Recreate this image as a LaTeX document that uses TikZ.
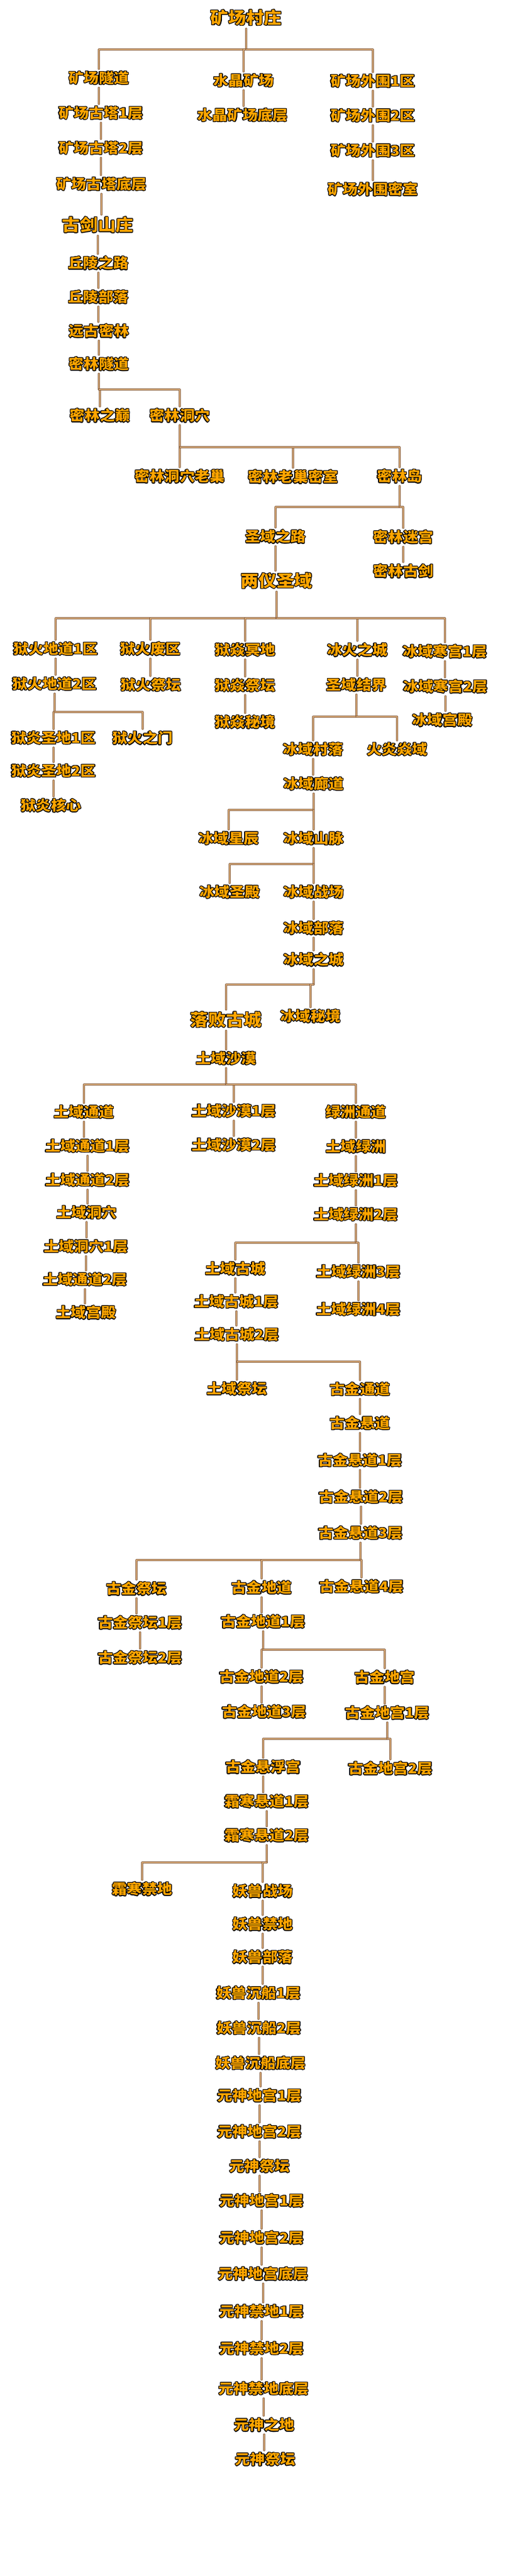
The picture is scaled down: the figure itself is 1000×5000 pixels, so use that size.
\documentclass[tikz,border=0pt]{standalone}
\usepackage{fontspec}
\setmainfont{Noto Sans CJK SC}[FakeStretch=1.08]
\usepackage{xcolor}
\newif\ifglow
\IfFileExists{contour.sty}{\glowtrue}{\glowfalse}
\ifglow
\usepackage[copies]{contour}
\contourlength{1.4pt}
\contournumber{16}
\newcommand{\glow}[1]{\contour{black}{#1}}
\else
\newcommand{\glow}[1]{#1}
\fi
\definecolor{ember}{RGB}{255,165,0}
\definecolor{rim}{RGB}{125,85,55}
\definecolor{core}{RGB}{220,175,125}

\begin{document}
\begin{tikzpicture}[x=1pt,y=-1pt,line cap=round,line join=round,
	place/.style={inner sep=4pt,text=ember,font=\bfseries\fontsize{27}{30}\selectfont},
	hub/.style={place,font=\bfseries\fontsize{32}{35}\selectfont},
	link/.style={draw=rim,line width=0.9pt,double=core,double distance=1.4pt}]
		\useasboundingbox[fill=white] (0,0) rectangle (1000,5000);
		% fork levels
		\coordinate (f1) at (0,96);
		\coordinate (f2) at (0,756);
		\coordinate (f3) at (0,868);
		\coordinate (f4) at (0,984);
		\coordinate (f5) at (0,1200);
		\coordinate (f6) at (0,1382);
		\coordinate (f7) at (0,1391);
		\coordinate (f8) at (0,1572);
		\coordinate (f9) at (0,1677);
		\coordinate (f10) at (0,1911);
		\coordinate (f11) at (0,2105);
		\coordinate (f12) at (0,2412);
		\coordinate (f13) at (0,2643);
		\coordinate (f14) at (0,3028);
		\coordinate (f15) at (0,3202);
		\coordinate (f16) at (0,3375);
		\coordinate (f17) at (0,3615);
		% places
		\node[hub] (cz) at (478,35) {\glow{矿场村庄}};
		\node[place] (sd) at (192,152) {\glow{矿场隧道}};
		\node[place] (sj) at (473,157) {\glow{水晶矿场}};
		\node[place] (w1) at (724,158) {\glow{矿场外围1区}};
		\node[place] (t1) at (196,220) {\glow{矿场古塔1层}};
		\node[place] (sjd) at (471,224) {\glow{水晶矿场底层}};
		\node[place] (w2) at (724,225) {\glow{矿场外围2区}};
		\node[place] (t2) at (196,288) {\glow{矿场古塔2层}};
		\node[place] (w3) at (724,293) {\glow{矿场外围3区}};
		\node[place] (td) at (197,358) {\glow{矿场古塔底层}};
		\node[place] (wm) at (724,368) {\glow{矿场外围密室}};
		\node[hub] (gj) at (190,437) {\glow{古剑山庄}};
		\node[place] (ql) at (191,511) {\glow{丘陵之路}};
		\node[place] (qb) at (191,577) {\glow{丘陵部落}};
		\node[place] (yg) at (192,643) {\glow{远古密林}};
		\node[place] (ms) at (192,707) {\glow{密林隧道}};
		\node[place] (mdj) at (194,807) {\glow{密林之巅}};
		\node[place] (mdx) at (349,807) {\glow{密林洞穴}};
		\node[place] (lc) at (349,925) {\glow{密林洞穴老巢}};
		\node[place] (ls) at (569,926) {\glow{密林老巢密室}};
		\node[place] (md) at (776,925) {\glow{密林岛}};
		\node[place] (sl) at (535,1042) {\glow{圣域之路}};
		\node[place] (mgg) at (783,1043) {\glow{密林迷宫}};
		\node[hub] (lh) at (537,1128) {\glow{两仪圣域}};
		\node[place] (mg) at (783,1109) {\glow{密林古剑}};
		\node[place] (hd1) at (108,1260) {\glow{狱火地道1区}};
		\node[place] (hf) at (292,1260) {\glow{狱火废区}};
		\node[place] (ym) at (476,1262) {\glow{狱焱冥地}};
		\node[place] (bh) at (694,1262) {\glow{冰火之城}};
		\node[place] (hg1) at (864,1265) {\glow{冰域寒宫1层}};
		\node[place] (hd2) at (106,1328) {\glow{狱火地道2区}};
		\node[place] (hj) at (293,1330) {\glow{狱火祭坛}};
		\node[place] (yj) at (476,1331) {\glow{狱焱祭坛}};
		\node[place] (jj) at (692,1330) {\glow{圣域结界}};
		\node[place] (hg2) at (865,1333) {\glow{冰域寒宫2层}};
		\node[place] (ymj) at (476,1402) {\glow{狱焱秘境}};
		\node[place] (bgd) at (859,1398) {\glow{冰域宫殿}};
		\node[place] (ys1) at (104,1433) {\glow{狱炎圣地1区}};
		\node[place] (hm) at (277,1433) {\glow{狱火之门}};
		\node[place] (bc) at (608,1455) {\glow{冰域村落}};
		\node[place] (hy) at (771,1455) {\glow{火炎焱域}};
		\node[place] (ys2) at (104,1497) {\glow{狱炎圣地2区}};
		\node[place] (ld) at (609,1522) {\glow{冰域廊道}};
		\node[place] (hx) at (99,1564) {\glow{狱炎核心}};
		\node[place] (xc) at (444,1628) {\glow{冰域星辰}};
		\node[place] (sm) at (609,1628) {\glow{冰域山脉}};
		\node[place] (sdn) at (446,1732) {\glow{冰域圣殿}};
		\node[place] (zc) at (609,1732) {\glow{冰域战场}};
		\node[place] (bb) at (609,1802) {\glow{冰域部落}};
		\node[place] (bz) at (609,1863) {\glow{冰域之城}};
		\node[hub] (lb) at (439,1980) {\glow{落败古城}};
		\node[place] (mj) at (603,1973) {\glow{冰域秘境}};
		\node[place] (ts) at (439,2055) {\glow{土域沙漠}};
		\node[place] (tt) at (163,2159) {\glow{土域通道}};
		\node[place] (ts1) at (454,2157) {\glow{土域沙漠1层}};
		\node[place] (lz) at (691,2159) {\glow{绿洲通道}};
		\node[place] (tt1) at (170,2225) {\glow{土域通道1层}};
		\node[place] (ts2) at (454,2223) {\glow{土域沙漠2层}};
		\node[place] (tl) at (691,2226) {\glow{土域绿洲}};
		\node[place] (tt2) at (170,2291) {\glow{土域通道2层}};
		\node[place] (tl1) at (691,2292) {\glow{土域绿洲1层}};
		\node[place] (tx) at (168,2354) {\glow{土域洞穴}};
		\node[place] (tl2) at (691,2358) {\glow{土域绿洲2层}};
		\node[place] (tx1) at (167,2420) {\glow{土域洞穴1层}};
		\node[place] (gc) at (457,2463) {\glow{土域古城}};
		\node[place] (tl3) at (696,2469) {\glow{土域绿洲3层}};
		\node[place] (tt2b) at (165,2484) {\glow{土域通道2层}};
		\node[place] (gc1) at (459,2527) {\glow{土域古城1层}};
		\node[place] (tl4) at (696,2542) {\glow{土域绿洲4层}};
		\node[place] (tgd) at (167,2548) {\glow{土域宫殿}};
		\node[place] (gc2) at (460,2591) {\glow{土域古城2层}};
		\node[place] (tj) at (460,2696) {\glow{土域祭坛}};
		\node[place] (gt) at (699,2697) {\glow{古金通道}};
		\node[place] (xd) at (699,2763) {\glow{古金悬道}};
		\node[place] (xd1) at (699,2835) {\glow{古金悬道1层}};
		\node[place] (xd2) at (701,2906) {\glow{古金悬道2层}};
		\node[place] (xd3) at (700,2976) {\glow{古金悬道3层}};
		\node[place] (gjt) at (265,3084) {\glow{古金祭坛}};
		\node[place] (gd0) at (508,3082) {\glow{古金地道}};
		\node[place] (xd4) at (702,3080) {\glow{古金悬道4层}};
		\node[place] (gjt1) at (272,3150) {\glow{古金祭坛1层}};
		\node[place] (gd1) at (511,3148) {\glow{古金地道1层}};
		\node[place] (gjt2) at (272,3218) {\glow{古金祭坛2层}};
		\node[place] (gd2) at (508,3255) {\glow{古金地道2层}};
		\node[place] (dg) at (747,3256) {\glow{古金地宫}};
		\node[place] (gd3) at (513,3323) {\glow{古金地道3层}};
		\node[place] (dg1) at (752,3325) {\glow{古金地宫1层}};
		\node[place] (fg) at (511,3430) {\glow{古金悬浮宫}};
		\node[place] (dg2) at (758,3433) {\glow{古金地宫2层}};
		\node[place] (sh1) at (518,3497) {\glow{霜寒悬道1层}};
		\node[place] (sh2) at (518,3563) {\glow{霜寒悬道2层}};
		\node[place] (shj) at (276,3667) {\glow{霜寒禁地}};
		\node[place] (yz) at (510,3671) {\glow{妖兽战场}};
		\node[place] (yj2) at (510,3735) {\glow{妖兽禁地}};
		\node[place] (yb) at (510,3799) {\glow{妖兽部落}};
		\node[place] (cc1) at (502,3869) {\glow{妖兽沉船1层}};
		\node[place] (cc2) at (503,3937) {\glow{妖兽沉船2层}};
		\node[place] (ccd) at (506,4005) {\glow{妖兽沉船底层}};
		\node[place] (a1) at (504,4068) {\glow{元神地宫1层}};
		\node[place] (a2) at (504,4138) {\glow{元神地宫2层}};
		\node[place] (aj) at (504,4205) {\glow{元神祭坛}};
		\node[place] (b1) at (508,4272) {\glow{元神地宫1层}};
		\node[place] (b2) at (508,4344) {\glow{元神地宫2层}};
		\node[place] (bd) at (511,4414) {\glow{元神地宫底层}};
		\node[place] (jd1) at (508,4487) {\glow{元神禁地1层}};
		\node[place] (jd2) at (508,4559) {\glow{元神禁地2层}};
		\node[place] (jdd) at (512,4637) {\glow{元神禁地底层}};
		\node[place] (zd) at (513,4707) {\glow{元神之地}};
		\node[place] (yjt) at (515,4774) {\glow{元神祭坛}};
		% forks
		\draw[link] (cz.south) -- (cz.south |- f1) -| (sd.north);
		\draw[link] (cz.south |- f1) -| (sj.north);
		\draw[link] (cz.south |- f1) -| (w1.north);
		\draw[link] (ms.south) -- (ms.south |- f2) -| (mdj.north);
		\draw[link] (ms.south |- f2) -| (mdx.north);
		\draw[link] (mdx.south) -- (mdx.south |- f3) -| (lc.north);
		\draw[link] (mdx.south |- f3) -| (ls.north);
		\draw[link] (mdx.south |- f3) -| (md.north);
		\draw[link] (md.south) -- (md.south |- f4) -| (sl.north);
		\draw[link] (md.south |- f4) -| (mgg.north);
		\draw[link] (lh.south) -- (lh.south |- f5) -| (hd1.north);
		\draw[link] (lh.south |- f5) -| (hf.north);
		\draw[link] (lh.south |- f5) -| (ym.north);
		\draw[link] (lh.south |- f5) -| (bh.north);
		\draw[link] (lh.south |- f5) -| (hg1.north);
		\draw[link] (hd2.south) -- (hd2.south |- f6) -| (ys1.north);
		\draw[link] (hd2.south |- f6) -| (hm.north);
		\draw[link] (jj.south) -- (jj.south |- f7) -| (bc.north);
		\draw[link] (jj.south |- f7) -| (hy.north);
		\draw[link] (ld.south) -- (ld.south |- f8) -| (xc.north);
		\draw[link] (ld.south |- f8) -| (sm.north);
		\draw[link] (sm.south) -- (sm.south |- f9) -| (sdn.north);
		\draw[link] (sm.south |- f9) -| (zc.north);
		\draw[link] (bz.south) -- (bz.south |- f10) -| (lb.north);
		\draw[link] (bz.south |- f10) -| (mj.north);
		\draw[link] (ts.south) -- (ts.south |- f11) -| (tt.north);
		\draw[link] (ts.south |- f11) -| (ts1.north);
		\draw[link] (ts.south |- f11) -| (lz.north);
		\draw[link] (tl2.south) -- (tl2.south |- f12) -| (gc.north);
		\draw[link] (tl2.south |- f12) -| (tl3.north);
		\draw[link] (gc2.south) -- (gc2.south |- f13) -| (tj.north);
		\draw[link] (gc2.south |- f13) -| (gt.north);
		\draw[link] (xd3.south) -- (xd3.south |- f14) -| (gjt.north);
		\draw[link] (xd3.south |- f14) -| (gd0.north);
		\draw[link] (xd3.south |- f14) -| (xd4.north);
		\draw[link] (gd1.south) -- (gd1.south |- f15) -| (gd2.north);
		\draw[link] (gd1.south |- f15) -| (dg.north);
		\draw[link] (dg1.south) -- (dg1.south |- f16) -| (fg.north);
		\draw[link] (dg1.south |- f16) -| (dg2.north);
		\draw[link] (sh2.south) -- (sh2.south |- f17) -| (shj.north);
		\draw[link] (sh2.south |- f17) -| (yz.north);
		% chains
		\draw[link] (sd.south) -- (sd.south |- t1.north);
		\draw[link] (t1.south) -- (t1.south |- t2.north);
		\draw[link] (t2.south) -- (t2.south |- td.north);
		\draw[link] (td.south) -- (td.south |- gj.north);
		\draw[link] (gj.south) -- (gj.south |- ql.north);
		\draw[link] (ql.south) -- (ql.south |- qb.north);
		\draw[link] (qb.south) -- (qb.south |- yg.north);
		\draw[link] (yg.south) -- (yg.south |- ms.north);
		\draw[link] (sj.south) -- (sj.south |- sjd.north);
		\draw[link] (w1.south) -- (w1.south |- w2.north);
		\draw[link] (w2.south) -- (w2.south |- w3.north);
		\draw[link] (w3.south) -- (w3.south |- wm.north);
		\draw[link] (sl.south) -- (sl.south |- lh.north);
		\draw[link] (mgg.south) -- (mgg.south |- mg.north);
		\draw[link] (hd1.south) -- (hd1.south |- hd2.north);
		\draw[link] (hf.south) -- (hf.south |- hj.north);
		\draw[link] (ym.south) -- (ym.south |- yj.north);
		\draw[link] (bh.south) -- (bh.south |- jj.north);
		\draw[link] (hg1.south) -- (hg1.south |- hg2.north);
		\draw[link] (yj.south) -- (yj.south |- ymj.north);
		\draw[link] (hg2.south) -- (hg2.south |- bgd.north);
		\draw[link] (ys1.south) -- (ys1.south |- ys2.north);
		\draw[link] (ys2.south) -- (ys2.south |- hx.north);
		\draw[link] (bc.south) -- (bc.south |- ld.north);
		\draw[link] (zc.south) -- (zc.south |- bb.north);
		\draw[link] (bb.south) -- (bb.south |- bz.north);
		\draw[link] (lb.south) -- (lb.south |- ts.north);
		\draw[link] (tt.south) -- (tt.south |- tt1.north);
		\draw[link] (tt1.south) -- (tt1.south |- tt2.north);
		\draw[link] (tt2.south) -- (tt2.south |- tx.north);
		\draw[link] (tx.south) -- (tx.south |- tx1.north);
		\draw[link] (tx1.south) -- (tx1.south |- tt2b.north);
		\draw[link] (tt2b.south) -- (tt2b.south |- tgd.north);
		\draw[link] (ts1.south) -- (ts1.south |- ts2.north);
		\draw[link] (lz.south) -- (lz.south |- tl.north);
		\draw[link] (tl.south) -- (tl.south |- tl1.north);
		\draw[link] (tl1.south) -- (tl1.south |- tl2.north);
		\draw[link] (gc.south) -- (gc.south |- gc1.north);
		\draw[link] (gc1.south) -- (gc1.south |- gc2.north);
		\draw[link] (tl3.south) -- (tl3.south |- tl4.north);
		\draw[link] (gt.south) -- (gt.south |- xd.north);
		\draw[link] (xd.south) -- (xd.south |- xd1.north);
		\draw[link] (xd1.south) -- (xd1.south |- xd2.north);
		\draw[link] (xd2.south) -- (xd2.south |- xd3.north);
		\draw[link] (gjt.south) -- (gjt.south |- gjt1.north);
		\draw[link] (gjt1.south) -- (gjt1.south |- gjt2.north);
		\draw[link] (gd0.south) -- (gd0.south |- gd1.north);
		\draw[link] (gd2.south) -- (gd2.south |- gd3.north);
		\draw[link] (dg.south) -- (dg.south |- dg1.north);
		\draw[link] (fg.south) -- (fg.south |- sh1.north);
		\draw[link] (sh1.south) -- (sh1.south |- sh2.north);
		\draw[link] (yz.south) -- (yz.south |- yj2.north);
		\draw[link] (yj2.south) -- (yj2.south |- yb.north);
		\draw[link] (yb.south) -- (yb.south |- cc1.north);
		\draw[link] (cc1.south) -- (cc1.south |- cc2.north);
		\draw[link] (cc2.south) -- (cc2.south |- ccd.north);
		\draw[link] (ccd.south) -- (ccd.south |- a1.north);
		\draw[link] (a1.south) -- (a1.south |- a2.north);
		\draw[link] (a2.south) -- (a2.south |- aj.north);
		\draw[link] (aj.south) -- (aj.south |- b1.north);
		\draw[link] (b1.south) -- (b1.south |- b2.north);
		\draw[link] (b2.south) -- (b2.south |- bd.north);
		\draw[link] (bd.south) -- (bd.south |- jd1.north);
		\draw[link] (jd1.south) -- (jd1.south |- jd2.north);
		\draw[link] (jd2.south) -- (jd2.south |- jdd.north);
		\draw[link] (jdd.south) -- (jdd.south |- zd.north);
		\draw[link] (zd.south) -- (zd.south |- yjt.north);
\end{tikzpicture}
\end{document}
